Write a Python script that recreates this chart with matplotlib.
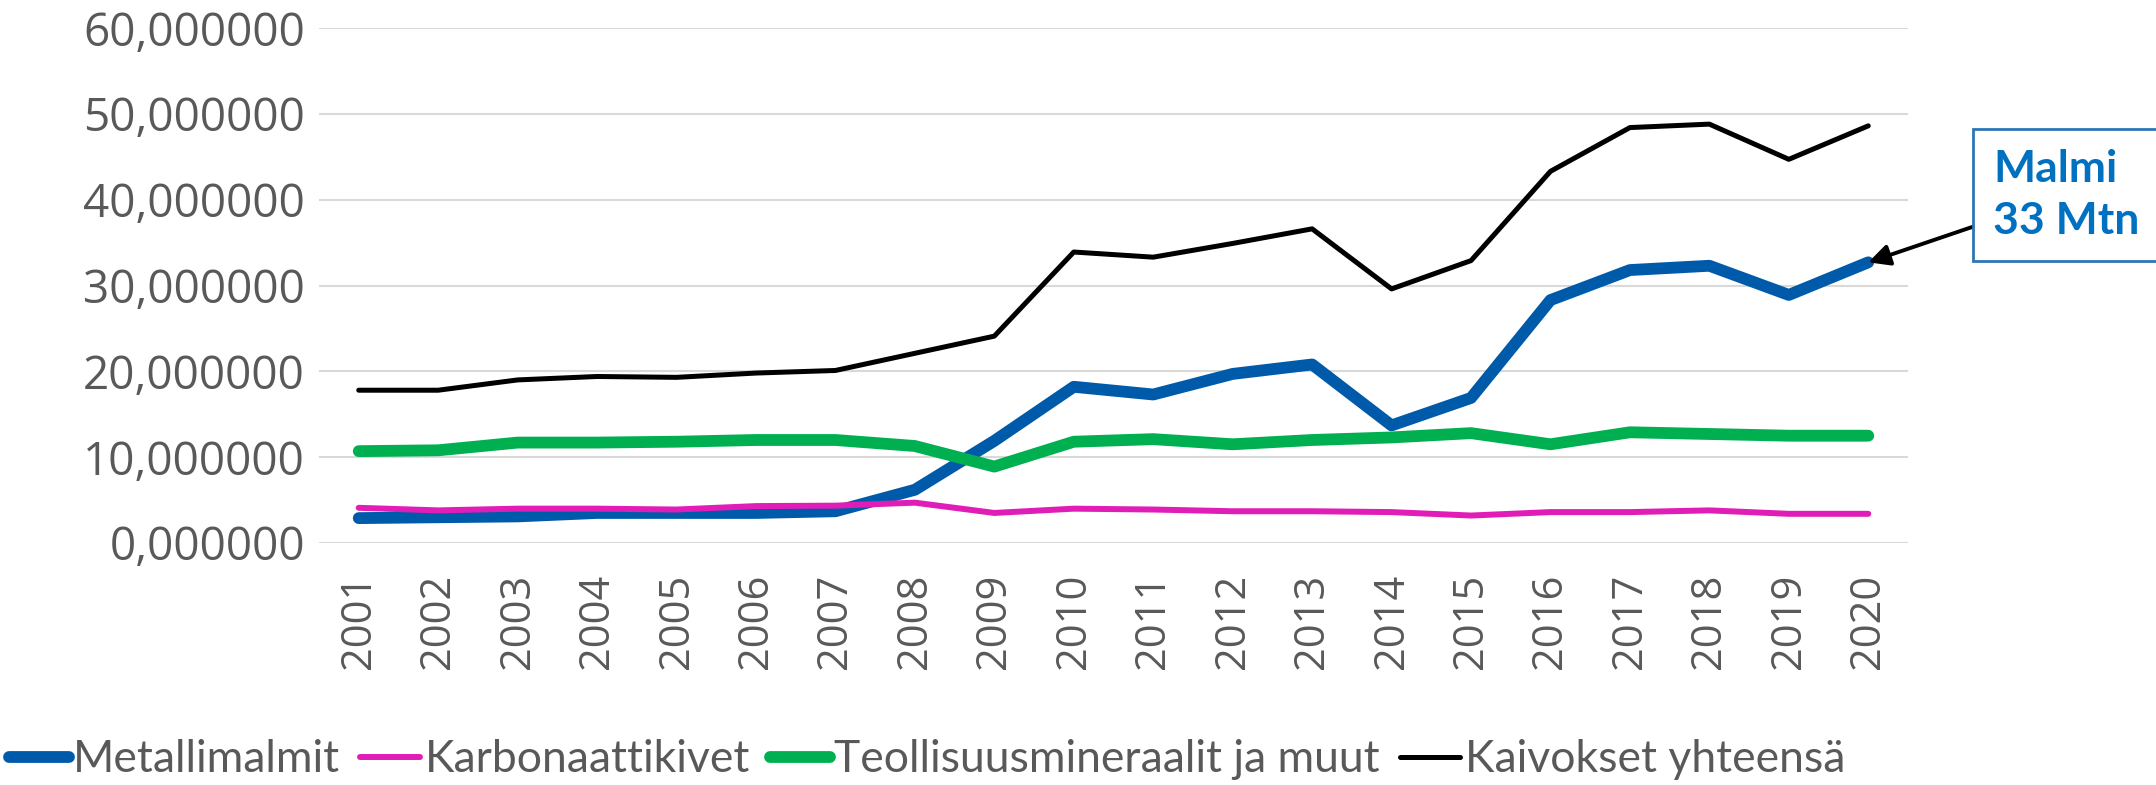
import matplotlib
matplotlib.use("Agg")
from matplotlib import pyplot as plt
from matplotlib.ticker import FuncFormatter

# vuodet ja sarjat (milj. tonnia)
years = [str(y) for y in range(2001, 2021)]
metallimalmit = [2.9, 3.0, 3.1, 3.5, 3.5, 3.5, 3.7, 6.2, 11.9, 18.2,
                 17.3, 19.7, 20.8, 13.7, 16.9, 28.3, 31.8, 32.3, 28.9, 32.7]
karbonaatti = [4.1, 3.8, 4.0, 4.0, 3.9, 4.3, 4.35, 4.7, 3.5, 4.0,
               3.9, 3.7, 3.7, 3.6, 3.2, 3.6, 3.6, 3.8, 3.4, 3.4]
teollisuus = [10.7, 10.8, 11.7, 11.7, 11.8, 12.0, 12.0, 11.3, 8.9, 11.8,
              12.1, 11.5, 12.0, 12.3, 12.8, 11.5, 12.9, 12.7, 12.5, 12.5]
yhteensa = [17.8, 17.8, 19.0, 19.4, 19.3, 19.8, 20.1, 22.1, 24.1, 33.9,
            33.3, 34.9, 36.6, 29.6, 32.9, 43.3, 48.4, 48.8, 44.7, 48.6]

labels = ["Metallimalmit", "Karbonaattikivet", "Teollisuusmineraalit ja muut", "Kaivokset yhteensä"]
gray = "#595959"

fig = plt.figure(figsize=(21.56, 7.85), dpi=100)
ax = fig.add_axes([319 / 2156, 1 - 543 / 785, (1908 - 319) / 2156, (543 - 28) / 785])

x = list(range(len(years)))
ax.plot(x, metallimalmit, color="#005AAA", lw=8.5, solid_capstyle="round", label=labels[0])
ax.plot(x, karbonaatti, color="#E01DB7", lw=4.3, solid_capstyle="round", label=labels[1])
ax.plot(x, teollisuus, color="#00B050", lw=8.5, solid_capstyle="round", label=labels[2])
ax.plot(x, yhteensa, color="black", lw=3.6, solid_capstyle="round", label=labels[3])

ax.set_xlim(-0.5, len(years) - 0.5)
ax.set_ylim(0, 60)
ax.set_yticks(range(0, 61, 10))
ax.yaxis.set_major_formatter(FuncFormatter(lambda v, p: ("%.6f" % v).replace(".", ",")))
ax.set_xticks(x)
ax.set_xticklabels(years, rotation=90)
ax.grid(axis="y", color="#D9D9D9", lw=1.5)
ax.set_axisbelow(True)
for s in ax.spines.values():
    s.set_visible(False)
ax.tick_params(axis="both", length=0, labelcolor=gray)
ax.tick_params(axis="y", pad=10)
ax.tick_params(axis="x", pad=22)
for t in ax.get_yticklabels():
    t.set_fontfamily("Open Sans")
    t.set_fontsize(33)
for t in ax.get_xticklabels():
    t.set_fontfamily("Open Sans")
    t.set_fontsize(30)

leg = fig.legend(loc="center left", bbox_to_anchor=(0.004, 25 / 785), ncol=4, frameon=False,
                 prop={"family": "Lato", "size": 32}, handlelength=1.35, handletextpad=0.1,
                 columnspacing=0.45, borderpad=0, borderaxespad=0)
for t in leg.get_texts():
    t.set_color(gray)

ax.annotate("Malmi\n33 Mtn", xy=(19, metallimalmit[-1]), xycoords="data",
            xytext=(1993 / 2156, 1 - 195 / 785), textcoords="figure fraction",
            ha="left", va="center", color="#0070C0", fontsize=32, fontweight="bold",
            family="Lato", linespacing=1.35, annotation_clip=False,
            bbox=dict(boxstyle="square,pad=0.45", fc="white", ec="#2E75B6", lw=2),
            arrowprops=dict(arrowstyle="-|>", color="black", lw=2.8, mutation_scale=32,
                            shrinkA=0, shrinkB=0))

fig.savefig("out.png", dpi=100)
